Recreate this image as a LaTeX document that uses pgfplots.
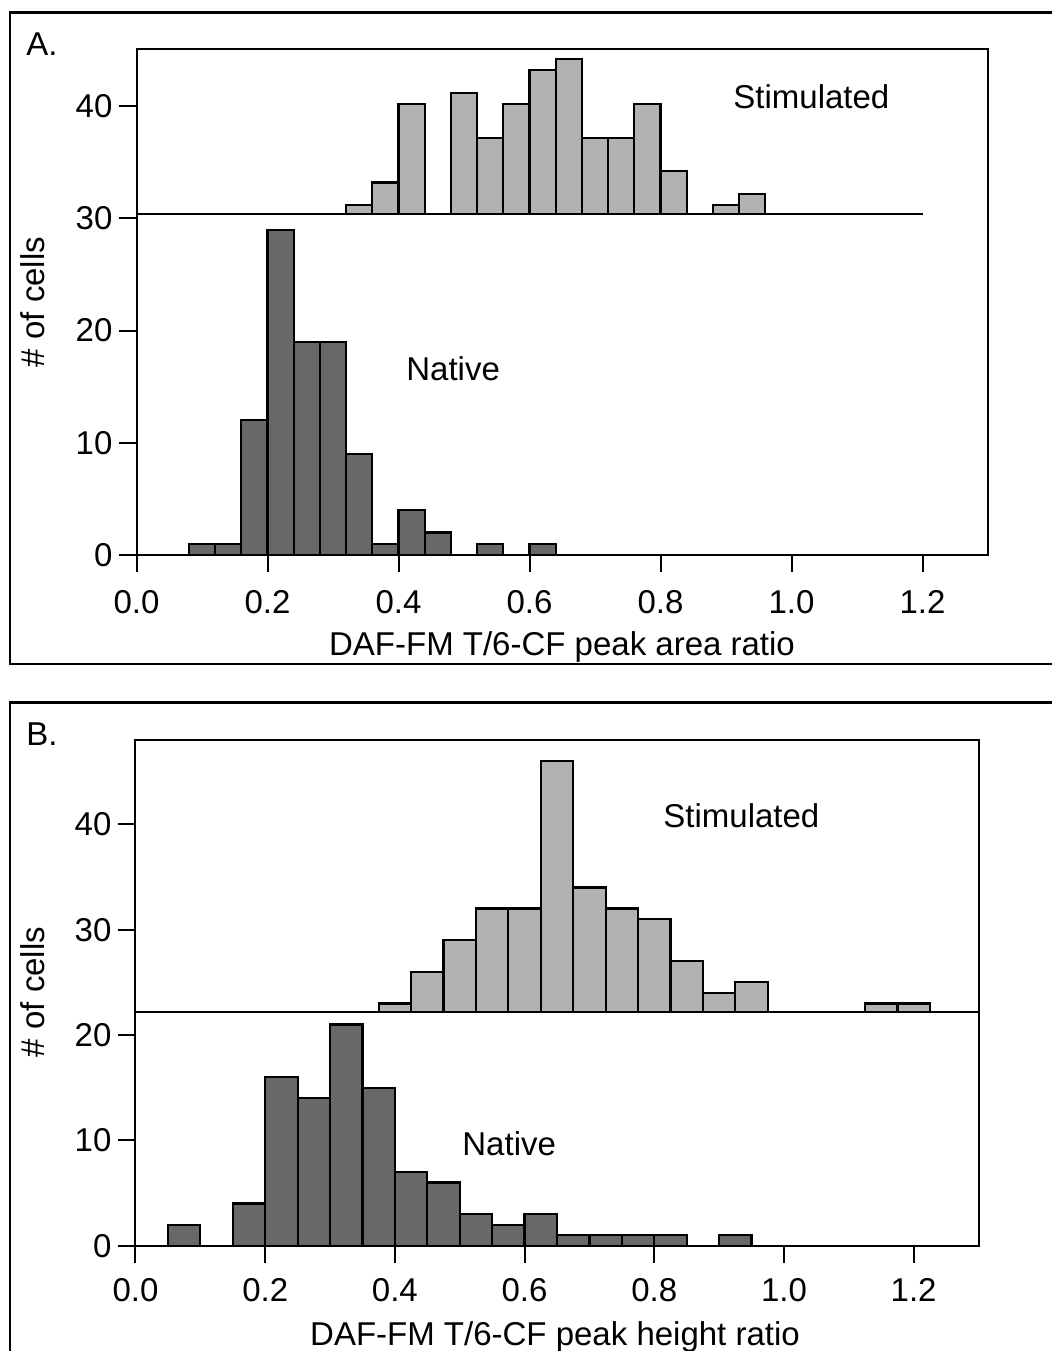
\documentclass[border=0pt]{standalone}
\usepackage{fontspec}
\setmainfont{Liberation Sans}
\usepackage{pgfplots}
\pgfplotsset{compat=1.18}

\definecolor{stimgray}{RGB}{178,178,178}
\definecolor{natgray}{RGB}{104,104,104}

\newcommand{\figfont}{\fontsize{16.5}{20}\selectfont}

\pgfplotsset{
  histo/.style={
    scale only axis,
    xmin=0, xmax=1.3, ymin=0,
    axis line style={line width=1pt},
    tick style={line width=1pt, black},
    tick align=outside,
    major tick length=8.5pt,
    tick pos=left,
    xtick={0,0.2,0.4,0.6,0.8,1.0,1.2},
    ytick={0,10,20,30,40},
    tick label style={font=\figfont},
    /pgf/number format/assume math mode=true,
    xticklabel style={/pgf/number format/fixed,
      /pgf/number format/fixed zerofill,
      /pgf/number format/precision=1},
  },
  over/.style={scale only axis, hide axis, xmin=0, xmax=1.3},
  bars/.style={ybar, bar shift=0pt, draw=black, line width=1.1pt},
}

% native, panel A (bin centre, count)
\pgfplotstableread{
x n
0.10 1
0.14 1
0.18 12
0.22 29
0.26 19
0.30 19
0.34 9
0.38 1
0.42 4
0.46 2
0.54 1
0.62 1
}\natA
% stimulated, panel A (bin centre, top of bar on offset scale)
\pgfplotstableread{
x n
0.34 31.2
0.38 33.2
0.42 40.2
0.50 41.2
0.54 37.2
0.58 40.2
0.62 43.2
0.66 44.2
0.70 37.2
0.74 37.2
0.78 40.2
0.82 34.2
0.90 31.2
0.94 32.2
}\stimA
% native, panel B
\pgfplotstableread{
x n
0.075 2
0.175 4
0.225 16
0.275 14
0.325 21
0.375 15
0.425 7
0.475 6
0.525 3
0.575 2
0.625 3
0.675 1
0.725 1
0.775 1
0.825 1
0.925 1
}\natB
% stimulated, panel B
\pgfplotstableread{
x n
0.40 23
0.45 26
0.50 29
0.55 32
0.60 32
0.65 46
0.70 34
0.75 32
0.80 31
0.85 27
0.90 24
0.95 25
1.15 23
1.20 23
}\stimB

\begin{document}
\begin{tikzpicture}
\useasboundingbox (0,0) rectangle (526pt,-675.5pt);

% outer frames
\draw[line width=1.3pt] (5pt,-6.35pt) rectangle (545pt,-332pt);
\draw[line width=1.3pt] (5pt,-351.35pt) rectangle (545pt,-700pt);

% ---- panel A ----
\begin{axis}[over, at={(68.25pt,-24.5pt)}, anchor=north west,
  width=425.75pt, height=82.46pt, ymin=30.4, ymax=45.1]
\addplot[bars, fill=stimgray, bar width=0.04] table[x=x,y=n] {\stimA};
\end{axis}

\begin{axis}[histo, at={(68.25pt,-277.5pt)}, anchor=south west,
  width=425.75pt, height=253pt, ymax=45.1,
  xticklabel style={yshift=-5.5pt}]
\addplot[bars, fill=natgray, bar width=0.04] table[x=x,y=n] {\natA};
\addplot[line width=1.1pt] coordinates {(0,30.4) (1.2,30.4)};
\end{axis}

% ---- panel B ----
\begin{axis}[over, at={(67.75pt,-370pt)}, anchor=north west,
  width=421.5pt, height=135.91pt, ymin=22.2, ymax=48]
\addplot[bars, fill=stimgray, bar width=0.05] table[x=x,y=n] {\stimB};
\end{axis}

\begin{axis}[histo, at={(67.75pt,-622.85pt)}, anchor=south west,
  width=421.5pt, height=252.85pt, ymax=48,
  xticklabel style={yshift=-4.5pt}]
\addplot[bars, fill=natgray, bar width=0.05] table[x=x,y=n] {\natB};
\addplot[line width=1.1pt] coordinates {(0,22.2) (1.3,22.2)};
\end{axis}

% texts
\begin{scope}[every node/.style={font=\figfont, inner sep=0pt}]
\node[anchor=base west] at (13pt,-27.5pt) {A.};
\node[anchor=base west] at (13pt,-372.5pt) {B.};
\node[anchor=base west] at (366.5pt,-54pt) {Stimulated};
\node[anchor=base west] at (203pt,-190pt) {Native};
\node[anchor=base west] at (331.5pt,-413.5pt) {Stimulated};
\node[anchor=base west] at (231pt,-577.5pt) {Native};
\node[rotate=90, anchor=base] at (22pt,-151pt) {\# of cells};
\node[rotate=90, anchor=base] at (22pt,-496pt) {\# of cells};
\node[anchor=base] at (281pt,-327.5pt) {DAF-FM T/6-CF peak area ratio};
\node[anchor=base] at (277.5pt,-672.5pt) {DAF-FM T/6-CF peak height ratio};
\end{scope}
\end{tikzpicture}
\end{document}
